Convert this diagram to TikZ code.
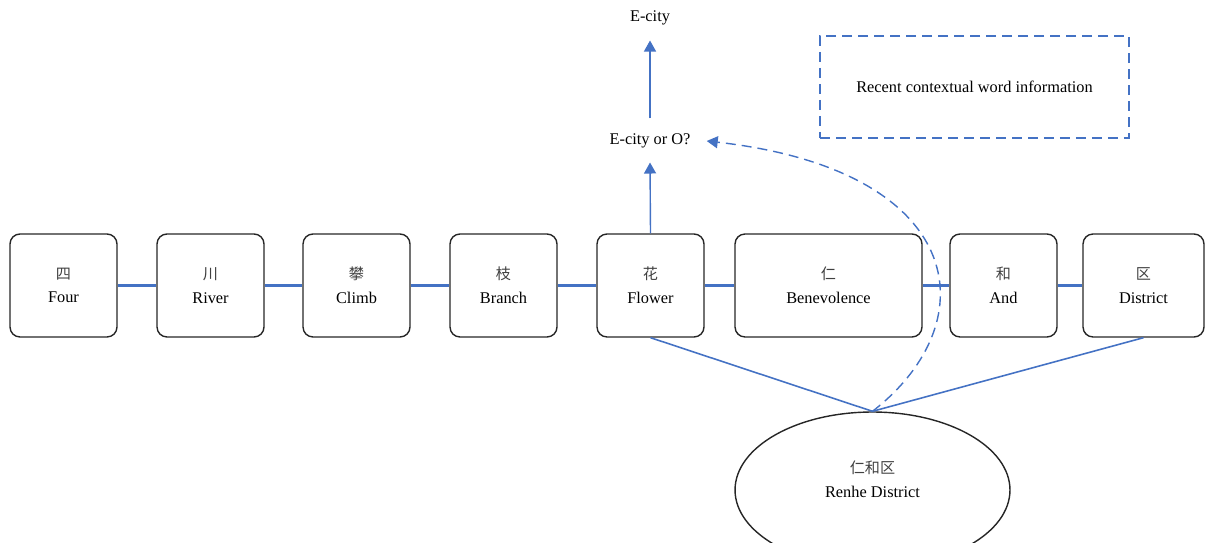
\documentclass[tikz,border=0pt]{standalone}
\usepackage{fontspec}
\setmainfont{Liberation Serif}
\newfontfamily\cjk{Noto Sans CJK SC}
\usetikzlibrary{shapes.geometric,arrows.meta}
\definecolor{lblue}{HTML}{4472C4}
\tikzset{
  x=0.02cm, y=-0.02cm,
  every node/.style={font=\fontsize{9.3}{13.5}\selectfont, inner sep=0pt},
  wordbox/.style={draw=black!85, line width=0.8pt, rounded corners=0.2cm,
    minimum width=2.14cm, minimum height=2.06cm, align=center},
  link/.style={color=lblue, line width=0.9pt},
  hlink/.style={color=lblue, line width=1.2pt},
  uparrow/.style={draw=lblue, line width=0.8pt, -{Triangle[width=0.24cm,length=0.22cm]}},
  dashlink/.style={draw=lblue, line width=0.8pt, dash pattern=on 0.2cm off 0.12cm}
}
\newcommand{\zh}[1]{{\cjk\fontsize{8.6}{13.5}\selectfont\color{black!75}#1}}
\begin{document}
\begin{tikzpicture}
\useasboundingbox (0,0) rectangle (1216,543);
\node[wordbox] (four) at (63.5,285.5) {\zh{四}\\Four};
\node[wordbox] (river) at (210.5,285.5) {\zh{川}\\River};
\node[wordbox] (climb) at (356.5,285.5) {\zh{攀}\\Climb};
\node[wordbox] (branch) at (503.5,285.5) {\zh{枝}\\Branch};
\node[wordbox] (flower) at (650.5,285.5) {\zh{花}\\Flower};
\node[wordbox, minimum width=3.74cm] (benev) at (828.5,285.5) {\zh{仁}\\Benevolence};
\node[wordbox] (and) at (1003.5,285.5) {\zh{和}\\And};
\node[wordbox, minimum width=2.42cm] (district) at (1143.5,285.5) {\zh{区}\\District};

\node[draw=black!85, line width=0.8pt, ellipse, minimum width=5.5cm, minimum height=3.12cm] (renhe) at (872.5,490) {};
\node[align=center] (renhelbl) at (872.5,479) {\zh{仁和区}\\Renhe District};
\coordinate (meet) at (renhe.north);

\node (eor) at (650,141) {E-city or O?};
\node (ecity) at (650,18) {E-city};
\node[draw=lblue, line width=0.8pt, dash pattern=on 0.2cm off 0.12cm, minimum width=6.18cm, minimum height=2.04cm] (recent) at (974.5,87) {Recent contextual word information};

\draw[uparrow] (flower.north) -- ([yshift=-0.28cm]eor.south);
\draw[uparrow] ([yshift=0.3cm]eor.north) -- ([yshift=-0.3cm]ecity.south);
\draw[dashlink, -{Triangle[width=0.24cm,length=0.22cm]}] (meet) .. controls (990,320) and (965,170) .. ([xshift=0.32cm]eor.east);

\draw[link] (flower.south) -- (meet);
\draw[link] (district.south) -- (meet);

\draw[hlink] (four.east) -- (river.west);
\draw[hlink] (river.east) -- (climb.west);
\draw[hlink] (climb.east) -- (branch.west);
\draw[hlink] (branch.east) -- (flower.west);
\draw[hlink] (flower.east) -- (benev.west);
\draw[hlink] (benev.east) -- (and.west);
\draw[hlink] (and.east) -- (district.west);
\end{tikzpicture}
\end{document}
